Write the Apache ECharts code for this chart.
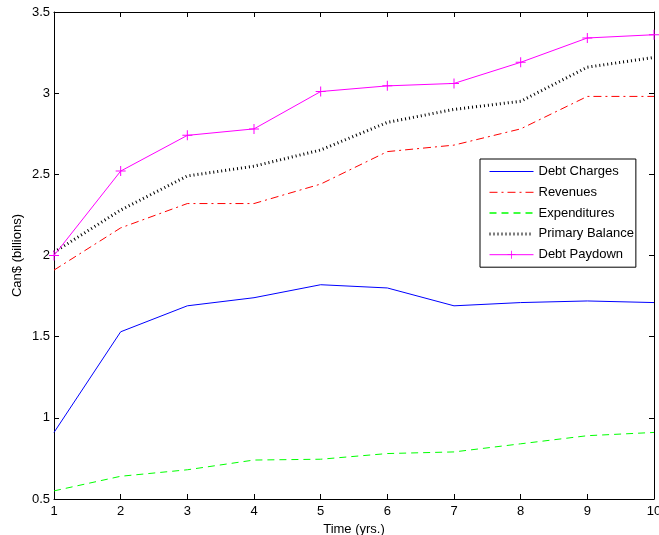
<!DOCTYPE html>
<html><head><meta charset="utf-8">
<script src="https://cdn.jsdelivr.net/npm/echarts@6/dist/echarts.min.js"></script>
<style>html,body{margin:0;padding:0;background:#fff;overflow:hidden}#c{width:659px;height:535px}</style>
</head><body><div id="c"></div>
<script>
const years = [1,2,3,4,5,6,7,8,9,10];
const debtCharges = [0.91,1.53,1.69,1.74,1.82,1.80,1.69,1.71,1.72,1.71];
const revenues = [1.91,2.17,2.32,2.32,2.44,2.64,2.68,2.78,2.98,2.98];
const expenditures = [0.55,0.64,0.68,0.74,0.745,0.78,0.79,0.84,0.89,0.91];
const primaryBalance = [2.02,2.28,2.49,2.55,2.65,2.82,2.90,2.95,3.16,3.22];
const debtPaydown = [2.0,2.52,2.74,2.78,3.01,3.045,3.06,3.19,3.34,3.36];
const seriesNames = ['Debt Charges','Revenues','Expenditures','Primary Balance','Debt Paydown'];

const font = 'Liberation Sans, Arial, Helvetica, sans-serif';
const pts = arr => arr.map((v,i)=>[years[i],v]);
const plus = 'path://M4.5,0h1v4.5h4.5v1h-4.5v4.5h-1v-4.5h-4.5v-1h4.5z';

const chart = echarts.init(document.getElementById('c'), null, {renderer:'canvas'});
const axisBase = {
  axisLine:{show:true,lineStyle:{color:'#000',width:1}},
  axisTick:{show:true,inside:true,length:5,lineStyle:{color:'#000'}},
  splitLine:{show:false}
};
chart.setOption({
  animation:false,
  backgroundColor:'#fff',
  grid:{left:54,right:5,top:12,bottom:36,containLabel:false,outerBoundsMode:'none'},
  xAxis:[
    Object.assign({type:'value',min:1,max:10,interval:1,position:'bottom',
      name:'Time (yrs.)',nameLocation:'middle',nameGap:22,
      nameTextStyle:{color:'#000',fontSize:13,fontFamily:font},
      axisLabel:{color:'#000',fontSize:13,fontFamily:font,margin:6}},axisBase),
    Object.assign({type:'value',min:1,max:10,interval:1,position:'top',
      axisLabel:{show:false}},axisBase)
  ],
  yAxis:[
    Object.assign({type:'value',min:0.5,max:3.5,interval:0.5,position:'left',
      name:'Can$ (billions)',nameLocation:'middle',nameGap:30,nameMoveOverlap:false,
      nameTextStyle:{color:'#000',fontSize:13,fontFamily:font},
      axisLabel:{color:'#000',fontSize:13,fontFamily:font,margin:4}},axisBase),
    Object.assign({type:'value',min:0.5,max:3.5,interval:0.5,position:'right',
      axisLabel:{show:false}},axisBase)
  ],
  legend:{
    data:[
      {name:seriesNames[0],itemStyle:{opacity:0},lineStyle:{width:1,color:'#0000ff'}},
      {name:seriesNames[1],itemStyle:{opacity:0},lineStyle:{width:1,color:'#ff0000'}},
      {name:seriesNames[2],itemStyle:{opacity:0},lineStyle:{width:1.5,color:'#00ff00'}},
      {name:seriesNames[3],itemStyle:{opacity:0},lineStyle:{width:3,color:'#000'}},
      {name:seriesNames[4],lineStyle:{width:1,color:'#ff00ff'}}
    ],
    orient:'vertical',
    left:480, top:159,
    backgroundColor:'#fff',
    borderColor:'#000', borderWidth:1,
    padding:[6,2,6,8],
    itemWidth:44, itemHeight:10, itemGap:7.8,
    textStyle:{color:'#000',fontSize:13,fontFamily:font}
  },
  series:[
    {name:'Debt Charges',type:'line',data:pts(debtCharges),symbol:'none',
      itemStyle:{color:'#0000ff'},lineStyle:{color:'#0000ff',width:1}},
    {name:'Revenues',type:'line',data:pts(revenues),symbol:'none',
      itemStyle:{color:'#ff0000'},lineStyle:{color:'#ff0000',width:1,type:[8,4,2,4]}},
    {name:'Expenditures',type:'line',data:pts(expenditures),symbol:'none',
      itemStyle:{color:'#00ff00'},lineStyle:{color:'#00ff00',width:1,type:[7,5]}},
    {name:'Primary Balance',type:'line',data:pts(primaryBalance),symbol:'none',
      itemStyle:{color:'#000'},lineStyle:{color:'#000',width:3,type:[1,3]}},
    {name:'Debt Paydown',type:'line',data:pts(debtPaydown),symbol:plus,symbolSize:10,
      itemStyle:{color:'#ff00ff'},lineStyle:{color:'#ff00ff',width:1}}
  ]
});
</script></body></html>
